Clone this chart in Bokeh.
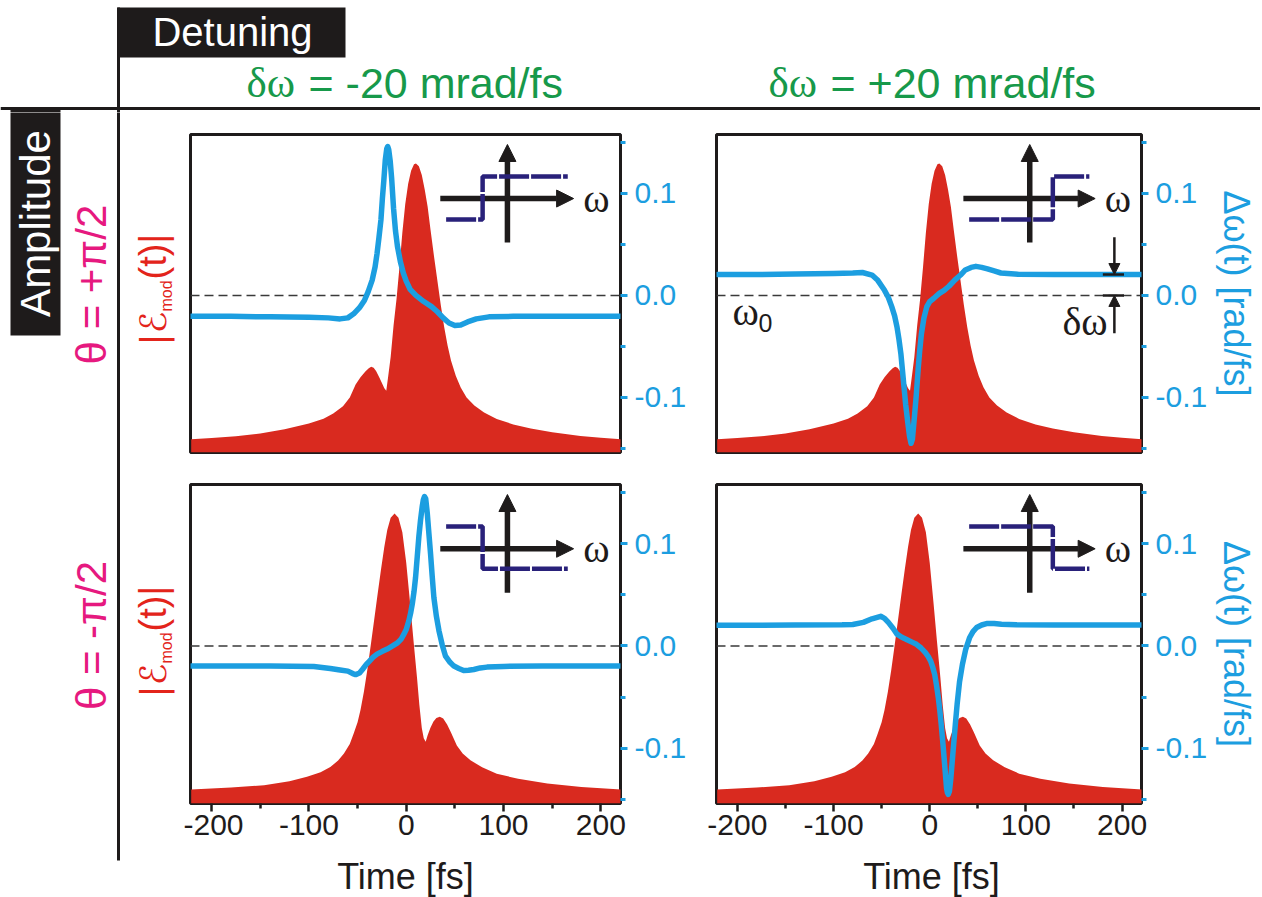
import math
from bokeh.plotting import figure
from bokeh.models import Range1d, Span, Arrow, NormalHead, FixedTicker, PrintfTickFormatter
from bokeh.layouts import row, column
from bokeh.embed import file_html
from bokeh.resources import INLINE
from bokeh.core.properties import value

# ---------------- data ----------------
# |E_mod(t)| (normalised) – top row (theta = +pi/2)
t_amp_top = [-221, -200, -175, -150, -125, -100, -85, -75, -65, -58,
             -52, -47, -42, -38.5, -36, -33.5, -31, -28, -25, -22.5,
             -20.5, -18.5, -16, -13, -10, -7, -4, -1, 2, 5,
             8, 10, 13, 16, 19, 22, 25, 28.5, 32, 35.5,
             39, 42.5, 46, 51, 56, 62, 70, 80, 93, 110,
             128, 150, 179, 200, 221]
amp_top = [0.046, 0.050, 0.056, 0.066, 0.080, 0.100, 0.117, 0.135, 0.16, 0.19,
           0.235, 0.26, 0.28, 0.291, 0.297, 0.293, 0.282, 0.262, 0.24, 0.222,
           0.214, 0.265, 0.33, 0.44, 0.53, 0.64, 0.76, 0.86, 0.93, 0.975,
           0.997, 1.0, 0.99, 0.96, 0.91, 0.85, 0.77, 0.68, 0.595, 0.51,
           0.434, 0.37, 0.318, 0.265, 0.225, 0.19, 0.163, 0.138, 0.116, 0.097,
           0.083, 0.070, 0.057, 0.051, 0.046]
# |E_mod(t)| (normalised) – bottom row (theta = -pi/2)
t_amp_bot = [-221, -180, -146, -120, -102, -88, -78, -70, -64, -58,
             -54, -50, -47, -43.5, -40, -36.5, -33, -29.5, -26, -22.5,
             -19.5, -16, -12, -8, -4, 0, 4, 7.5, 11, 13.5,
             16, 18, 20, 22, 25, 28, 31, 34.5, 38, 42,
             46, 52, 58, 66, 78, 93, 115, 145, 180, 221]
amp_bot = [0.048, 0.055, 0.063, 0.077, 0.092, 0.108, 0.126, 0.148, 0.172, 0.205,
           0.241, 0.28, 0.322, 0.385, 0.46, 0.545, 0.632, 0.72, 0.805, 0.885,
           0.943, 0.985, 1.0, 0.985, 0.935, 0.83, 0.69, 0.56, 0.437, 0.34,
           0.26, 0.225, 0.213, 0.235, 0.262, 0.283, 0.295, 0.299, 0.293, 0.272,
           0.245, 0.2, 0.172, 0.149, 0.125, 0.103, 0.085, 0.069, 0.057, 0.048]

# instantaneous frequency offset  Δω(t) [rad/fs]
t_dw_tl = [-221, -180, -140, -100, -80, -68, -60, -54, -48, -43,
           -39, -35, -32, -30, -28, -26, -24.5, -23, -21.5, -20,
           -19, -18, -16.5, -15, -13, -11, -9, -6, -3, 0,
           4, 10, 18, 26, 32, 38, 44, 50, 56, 63,
           72, 85, 110, 150, 221]
dw_tl = [-0.0205, -0.0205, -0.021, -0.0215, -0.022, -0.023, -0.022, -0.018, -0.012, -0.005,
         0.004, 0.015, 0.028, 0.041, 0.057, 0.074, 0.095, 0.113, 0.133, 0.144,
         0.146, 0.143, 0.132, 0.115, 0.085, 0.063, 0.048, 0.033, 0.022, 0.014,
         0.006, 0.0, -0.006, -0.011, -0.016, -0.022, -0.027, -0.0295, -0.029, -0.026,
         -0.023, -0.021, -0.0205, -0.0205, -0.0205]

t_dw_tr = [-221, -180, -140, -100, -80, -70, -60, -54, -47, -43,
           -39.5, -36.5, -34, -32, -30, -28.5, -26.7, -25, -23, -21,
           -19.4, -18, -15.8, -14, -12, -10.5, -8.7, -6, -3, 0,
           4, 10, 15, 20, 26, 32, 37, 43, 48, 54,
           60, 67, 74, 92, 130, 180, 221]
dw_tr = [0.0205, 0.0205, 0.021, 0.0215, 0.022, 0.0225, 0.02, 0.0148, 0.005, -0.002,
         -0.011, -0.02, -0.031, -0.043, -0.057, -0.072, -0.09, -0.107, -0.123, -0.138,
         -0.145, -0.141, -0.118, -0.098, -0.072, -0.055, -0.038, -0.022, -0.011, -0.006,
         -0.003, 0.002, 0.005, 0.009, 0.015, 0.02, 0.025, 0.0275, 0.0285, 0.0275,
         0.026, 0.024, 0.022, 0.0207, 0.0205, 0.0205, 0.0205]

t_dw_bl = [-221, -180, -140, -95, -78, -68, -60, -55, -52, -48,
           -45, -41, -38, -34, -30, -25, -19.5, -14, -9, -5,
           -2.4, 0, 2.7, 4.5, 6.2, 8, 9.6, 11.3, 13, 14.7,
           16.4, 17.6, 18.8, 20, 21.6, 23.3, 25, 26.7, 28.4, 31,
           33.6, 37, 40.4, 45, 49, 54, 59, 64, 69.5, 76,
           83, 100, 140, 180, 221]
dw_bl = [-0.0197, -0.0197, -0.0197, -0.02, -0.022, -0.0235, -0.0246, -0.027, -0.028, -0.0265,
         -0.023, -0.018, -0.015, -0.011, -0.008, -0.0055, -0.003, 0.0, 0.003, 0.007,
         0.0115, 0.016, 0.0246, 0.032, 0.041, 0.053, 0.067, 0.087, 0.107, 0.123,
         0.136, 0.143, 0.146, 0.144, 0.13, 0.11, 0.09, 0.068, 0.0475, 0.029,
         0.015, 0.001, -0.01, -0.016, -0.0197, -0.022, -0.024, -0.0238, -0.023, -0.0215,
         -0.0207, -0.02, -0.0197, -0.0197, -0.0197]

t_dw_br = [-221, -180, -140, -91, -80, -69, -60, -54.6, -51, -47,
           -43, -38, -34, -29, -24.6, -19, -13.8, -9, -4.5, -1.5,
           1, 3.2, 5.2, 7, 9, 10.5, 12, 13.5, 15, 16.3,
           17.5, 18.4, 19.3, 20.5, 21.9, 23.3, 24.8, 26.6, 28.5, 31,
           34, 37.5, 41.4, 45, 48.8, 54, 60, 67, 74.6, 90,
           130, 180, 221]
dw_br = [0.0203, 0.0203, 0.0205, 0.0207, 0.021, 0.023, 0.0265, 0.028, 0.029, 0.027,
         0.023, 0.017, 0.0115, 0.0085, 0.0066, 0.004, 0.0016, -0.002, -0.0066, -0.0105,
         -0.0148, -0.021, -0.028, -0.038, -0.051, -0.063, -0.077, -0.093, -0.11, -0.125,
         -0.139, -0.1435, -0.145, -0.142, -0.13, -0.114, -0.097, -0.077, -0.057, -0.035,
         -0.018, -0.003, 0.008, 0.014, 0.018, 0.0205, 0.022, 0.022, 0.0213, 0.0207,
         0.0205, 0.0205, 0.0205]

# ticks
time_ticks = [-200, -100, 0, 100, 200]
time_minor = [-150, -50, 50, 150]
dw_ticks = [-0.1, 0.0, 0.1]
dw_minor = [-0.15, -0.05, 0.05, 0.15]

# texts
detuning_values = ["= -20 mrad/fs", "= +20 mrad/fs"]
theta_labels = ["θ = +π/2", "θ = -π/2"]
time_label = "Time [fs]"
dw_label = "Δω(t) [rad/fs]"

# inset schematics (fs, rad/fs)
inset_arrow_h = (35, 172, 0.095)
inset_arrow_v = (104, 0.052, 0.148)
step_x_left = [41, 78.5, 78.5, 166]
step_x_right = [41, 128, 128, 166]
step_y_up = [0.0745, 0.0745, 0.1167, 0.1167]
step_y_down = [0.1167, 0.1167, 0.0755, 0.0755]
detuning_marker = (192, 0.0205, 0.0)

# ---------------- styling ----------------
INK = "#1e1b1b"
RED = "#d92a1f"
RED_TXT = "#e3241b"
BLUE = "#1c9ee0"
NAVY = "#29217a"
GREEN = "#17994a"
PINK = "#e6197f"
SANS = "Liberation Sans"
SERIF = "Liberation Serif"
MID = 0.3465  # distance (em) from alphabetic baseline to the "middle" anchor

PAGE_W = 1260
PAGE_H = 897
HEAD_H = 112
SIDE_W = 183
ROW1_H = 356
ROW2_H = 382
FOOT_H = PAGE_H - HEAD_H - ROW1_H - ROW2_H
LEFT_W = 515
RIGHT_W = PAGE_W - SIDE_W - LEFT_W
FRAME_W = 430

VLINE_X = 118
VLINE_Y = (7, 860)
HLINE_Y = 108
DET_BOX = (117, 345, 7, 57)
AMP_BOX = (10, 60, 108, 335)
TIME_LABEL_X = [405, 931]
TIME_LABEL_BASE = 888


def blank(width, height, x0, x1, y_top, y_bottom):
    p = figure(width=width, height=height, title=None, toolbar_location=None,
               output_backend="svg", x_range=Range1d(x0, x1),
               y_range=Range1d(y_bottom, y_top), x_axis_location=None,
               y_axis_location=None, min_border=0)
    p.grid.visible = False
    p.outline_line_color = None
    p.background_fill_color = "white"
    p.border_fill_color = "white"
    return p


def draw_guides(p):
    p.quad(left=[DET_BOX[0]], right=[DET_BOX[1]], top=[DET_BOX[2]], bottom=[DET_BOX[3]],
           fill_color=INK, line_color=None)
    p.quad(left=[AMP_BOX[0]], right=[AMP_BOX[1]], top=[AMP_BOX[2]], bottom=[AMP_BOX[3]],
           fill_color=INK, line_color=None)
    p.segment(x0=[VLINE_X], y0=[VLINE_Y[0]], x1=[VLINE_X], y1=[VLINE_Y[1]],
              line_color=INK, line_width=3)
    p.segment(x0=[0], y0=[HLINE_Y], x1=[PAGE_W], y1=[HLINE_Y], line_color=INK, line_width=3)


# ---------------- header ----------------
header = blank(PAGE_W, HEAD_H, 0, PAGE_W, 0, HEAD_H)
draw_guides(header)
header.text(x=[232], y=[45 - MID * 40], text=["Detuning"], text_color="white",
            text_font=value(SANS), text_font_size="40px", text_align="center",
            text_baseline="middle")
for dx, lab in zip([246, 768], detuning_values):
    header.text(x=[dx], y=[97 - MID * 43], text=["δω"], text_color=GREEN,
                text_font=value(SERIF), text_font_size="43px", text_align="left",
                text_baseline="middle")
    header.text(x=[dx + 62], y=[97 - MID * 43], text=[lab], text_color=GREEN,
                text_font=value(SANS), text_font_size="43px", text_align="left",
                text_baseline="middle")

# ---------------- left side ----------------
side = blank(SIDE_W, PAGE_H - HEAD_H, 0, SIDE_W, HEAD_H, PAGE_H)
draw_guides(side)
side.text(x=[35], y=[223], text=["Amplitude"], text_color="white", text_font=value(SANS),
          text_font_size="42px", text_align="center", text_baseline="middle", angle=math.pi / 2)
for yc, lab in zip([284, 635], theta_labels):
    side.text(x=[91], y=[yc], text=[lab], text_color=PINK, text_font=value(SANS),
              text_font_size="42px", text_align="center", text_baseline="middle",
              angle=math.pi / 2)
for j in [311, 663]:
    side.text(x=[165.5 - MID * 36], y=[j], text=["|ℰ"], text_color=RED_TXT,
              text_font=value("DejaVu Sans"), text_font_size="36px", text_align="right",
              text_baseline="middle", angle=math.pi / 2)
    side.text(x=[171.5 - MID * 16], y=[j], text=["mod"], text_color=RED_TXT,
              text_font=value(SANS), text_font_size="16px", text_align="left",
              text_baseline="middle", angle=math.pi / 2)
    side.text(x=[165.5 - MID * 38], y=[j - 32], text=["(t)|"], text_color=RED_TXT,
              text_font=value(SANS), text_font_size="38px", text_align="left",
              text_baseline="middle", angle=math.pi / 2)

# ---------------- footer (x-axis titles) ----------------
foot_top = HEAD_H + ROW1_H + ROW2_H
footer = blank(PAGE_W - SIDE_W, FOOT_H, SIDE_W, PAGE_W, foot_top, PAGE_H)
footer.text(x=TIME_LABEL_X, y=[TIME_LABEL_BASE - MID * 36] * 2, text=[time_label] * 2,
            text_color=INK, text_font=value(SANS), text_font_size="36px",
            text_align="center", text_baseline="middle")


# ---------------- panels ----------------
def panel(t_amp, amp, t_dw, dw, step_x, step_y, top_row, right_col):
    w = RIGHT_W if right_col else LEFT_W
    h = ROW1_H if top_row else ROW2_H
    ml = 18 if right_col else 7
    mt = 22 if top_row else 16
    fh = 318 if top_row else 319
    p = figure(width=w, height=h, title=None, toolbar_location=None, output_backend="svg",
               x_range=Range1d(-221.7, 220.2), y_range=Range1d(-0.154, 0.1578),
               x_axis_location=None if top_row else "below", y_axis_location="right",
               min_border_left=ml, min_border_right=w - ml - FRAME_W,
               min_border_top=mt, min_border_bottom=h - mt - fh)
    p.grid.visible = False
    p.background_fill_color = "white"
    p.border_fill_color = "white"
    p.outline_line_color = INK
    p.outline_line_width = 3
    p.extra_y_ranges = {"amp": Range1d(0, 1.10)}

    p.add_layout(Span(location=0, dimension="width", line_color="#3a3a3a", line_width=1.6,
                      line_dash="9 5", level="underlay"))
    p.varea(x=t_amp, y1=0, y2=amp, fill_color=RED, y_range_name="amp")
    p.line(t_dw, dw, line_color=BLUE, line_width=5.5, line_join="round", line_cap="round")

    # inset schematic
    hx0, hx1, hy = inset_arrow_h
    vx, vy0, vy1 = inset_arrow_v
    p.add_layout(Arrow(end=NormalHead(size=17, fill_color=INK, line_color=INK),
                       x_start=hx0, y_start=hy, x_end=hx1, y_end=hy,
                       line_color=INK, line_width=5.5))
    p.add_layout(Arrow(end=NormalHead(size=17, fill_color=INK, line_color=INK),
                       x_start=vx, y_start=vy0, x_end=vx, y_end=vy1,
                       line_color=INK, line_width=5.5))
    p.line(step_x, step_y, line_color=NAVY, line_width=4.5, line_dash="30 2", level="overlay")
    p.text(x=[182], y=[hy], text=["ω"], text_color=INK, text_font=value(SERIF),
           text_font_size="40px", text_align="left", text_baseline="middle")

    ax = p.yaxis[0]
    ax.ticker = FixedTicker(ticks=dw_ticks, minor_ticks=dw_minor)
    ax.formatter = PrintfTickFormatter(format="%.1f")
    ax.axis_line_color = None
    ax.major_tick_line_color = BLUE
    ax.major_tick_line_width = 3
    ax.major_tick_out = 7
    ax.major_tick_in = 0
    ax.minor_tick_line_color = BLUE
    ax.minor_tick_line_width = 3
    ax.minor_tick_out = 5
    ax.minor_tick_in = 0
    ax.major_label_text_color = BLUE
    ax.major_label_text_font = SANS
    ax.major_label_text_font_size = "30px"
    ax.major_label_standoff = 7
    if right_col:
        ax.axis_label = dw_label
        ax.axis_label_text_font = SANS
        ax.axis_label_text_font_size = "36px"
        ax.axis_label_text_font_style = "normal"
        ax.axis_label_text_color = BLUE
        ax.axis_label_standoff = 6

    if not top_row:
        xa = p.xaxis[0]
        xa.ticker = FixedTicker(ticks=time_ticks, minor_ticks=time_minor)
        xa.formatter = PrintfTickFormatter(format="%d")
        xa.axis_line_color = None
        xa.major_tick_line_color = INK
        xa.major_tick_line_width = 2.5
        xa.major_tick_out = 8
        xa.major_tick_in = 0
        xa.minor_tick_line_color = INK
        xa.minor_tick_line_width = 2.5
        xa.minor_tick_out = 5
        xa.minor_tick_in = 0
        xa.major_label_text_color = INK
        xa.major_label_text_font = SANS
        xa.major_label_text_font_size = "30px"
        xa.major_label_standoff = 3
    return p


tl = panel(t_amp_top, amp_top, t_dw_tl, dw_tl, step_x_left, step_y_up, True, False)
tr = panel(t_amp_top, amp_top, t_dw_tr, dw_tr, step_x_right, step_y_up, True, True)
bl = panel(t_amp_bot, amp_bot, t_dw_bl, dw_bl, step_x_left, step_y_down, False, False)
br = panel(t_amp_bot, amp_bot, t_dw_br, dw_br, step_x_right, step_y_down, False, True)

# ω0 and δω annotation in the upper-right panel (px -> data: 1020 px per rad/fs)
mx, m_top, m_zero = detuning_marker
tr.text(x=[-205], y=[-0.0294 + MID * 40 / 1020], text=["ω"], text_color=INK,
        text_font=value(SERIF), text_font_size="40px", text_align="left", text_baseline="middle")
tr.text(x=[-178], y=[-0.036 + MID * 25 / 1020], text=["0"], text_color=INK,
        text_font=value(SANS), text_font_size="25px", text_align="left", text_baseline="middle")
tr.text(x=[185], y=[-0.039 + MID * 40 / 1020], text=["δω"], text_color=INK,
        text_font=value(SERIF), text_font_size="40px", text_align="right", text_baseline="middle")
tr.add_layout(Arrow(end=NormalHead(size=11, fill_color=INK, line_color=INK),
                    x_start=mx, y_start=0.057, x_end=mx, y_end=m_top,
                    line_color=INK, line_width=2.5))
tr.add_layout(Arrow(end=NormalHead(size=11, fill_color=INK, line_color=INK),
                    x_start=mx, y_start=-0.037, x_end=mx, y_end=m_zero,
                    line_color=INK, line_width=2.5))
tr.segment(x0=[mx - 12, mx - 12], y0=[m_top, m_zero], x1=[mx + 10, mx + 10], y1=[m_top, m_zero],
           line_color=INK, line_width=2.5)

layout = column(header, row(side, column(row(tl, tr), row(bl, br), footer)))
open("out.html", "w").write(file_html(layout, INLINE, title="Detuning / Amplitude"))
